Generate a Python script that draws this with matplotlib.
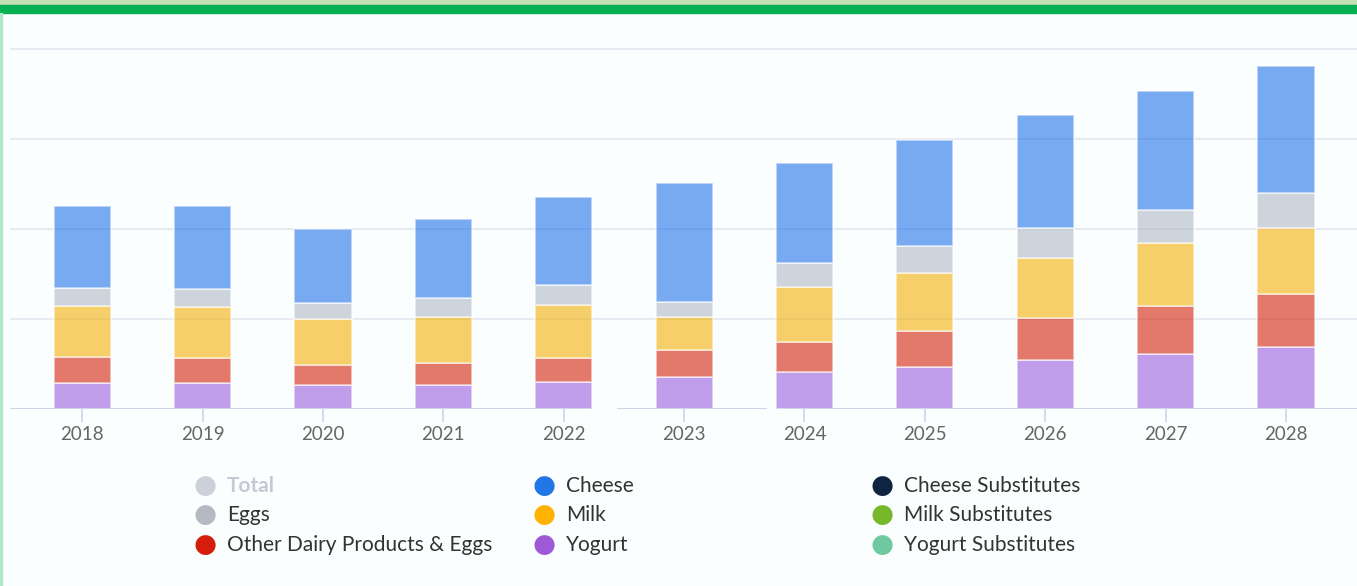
import matplotlib.pyplot as plt
from matplotlib.patches import Rectangle

# values (one gridline step = 10 units)
years = ["2018", "2019", "2020", "2021", "2022", "2023",
         "2024", "2025", "2026", "2027", "2028"]
yogurt = [2.9, 2.9, 2.7, 2.7, 3.0, 3.6, 4.1, 4.7, 5.4, 6.1, 6.9]
other = [2.9, 2.8, 2.2, 2.4, 2.7, 3.0, 3.3, 4.0, 4.7, 5.4, 5.9]
milk = [5.6, 5.6, 5.1, 5.1, 5.9, 3.6, 6.2, 6.4, 6.7, 6.9, 7.3]
eggs = [2.0, 2.0, 1.8, 2.1, 2.2, 1.7, 2.6, 3.0, 3.3, 3.7, 3.9]
cheese = [9.2, 9.3, 8.2, 8.8, 9.8, 13.2, 11.1, 11.8, 12.6, 13.2, 14.1]

stack = [("Yogurt", yogurt, "#995cde"),
         ("Other Dairy Products & Eggs", other, "#d22008"),
         ("Milk", milk, "#f3b108"),
         ("Eggs", eggs, "#b1b9c6"),
         ("Cheese", cheese, "#2173e9")]

legend_names = ["Total", "Eggs", "Other Dairy Products & Eggs",
                "Cheese", "Milk", "Yogurt",
                "Cheese Substitutes", "Milk Substitutes", "Yogurt Substitutes"]
legend_colors = ["#ccd0d9", "#b5b9c2", "#d41e0b",
                 "#2277e6", "#ffb300", "#9c5ad9",
                 "#0e2440", "#77b82a", "#6fc9a0"]

bg = "#fbfefe"
fig = plt.figure(figsize=(13.57, 5.86), dpi=100, facecolor=bg)
ax = fig.add_axes([10 / 1357, 177 / 586, 1 - 10 / 1357, 378 / 586])
ax.set_facecolor(bg)

x = list(range(len(years)))
bottom = [0.0] * len(years)
for name, vals, col in stack:
    ax.bar(x, vals, width=0.474, bottom=bottom, color=col, alpha=0.6,
           edgecolor="white", linewidth=1.2, zorder=3)
    bottom = [b + v for b, v in zip(bottom, vals)]

ax.set_xlim(-0.6, 10.59)
ax.set_ylim(0, 42)
ax.set_yticks([10, 20, 30, 40])
ax.grid(axis="y", color="#e3e7ef", linewidth=1.2, zorder=0)
ax.tick_params(axis="y", left=False, labelleft=False)
for s in ax.spines.values():
    s.set_visible(False)

# baseline, with the small gaps seen in the reference
for x0, x1 in [(-0.6, 4.23), (4.44, 5.69), (5.82, 10.59)]:
    ax.hlines(0, x0, x1, color="#ccd6eb", linewidth=1.5, zorder=4)

ax.set_xticks(x)
ax.set_xticklabels(years, fontsize=13.5, color="#666666", family="Lato")
ax.tick_params(axis="x", length=9, width=1.2, color="#ccd6eb", pad=3)

# legend drawn by hand in three fixed columns
col_x = [205, 544, 882]
row_y = [486, 515, 545]
for i, (name, col) in enumerate(zip(legend_names, legend_colors)):
    cx = col_x[i // 3]
    cy = row_y[i % 3]
    fig.text(cx / 1357, 1 - cy / 586, "\u25CF", fontsize=19, color=col,
             ha="center", va="center", family="DejaVu Sans")
    fig.text((cx + 22) / 1357, 1 - cy / 586, name, fontsize=15,
             color="#c5c9d3" if name == "Total" else "#333333",
             ha="left", va="center", family="Lato",
             fontweight="bold" if name == "Total" else "normal")

# green header band and left border
fig.patches.append(Rectangle((0, 1 - 5 / 586), 1, 5 / 586, transform=fig.transFigure,
                             color="#c5e0b4", zorder=10))
fig.patches.append(Rectangle((0, 1 - 13 / 586), 1, 8 / 586, transform=fig.transFigure,
                             color="#07b050", zorder=10))
fig.patches.append(Rectangle((0, 0), 2 / 1357, 1 - 13 / 586, transform=fig.transFigure,
                             color="#b0e8c8", zorder=10))

fig.savefig("out.png", dpi=100, facecolor=bg)
